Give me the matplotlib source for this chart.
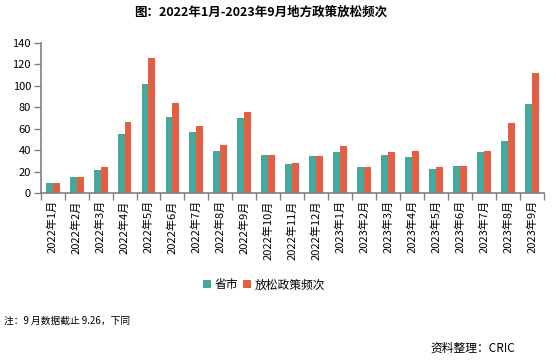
import matplotlib
matplotlib.use("Agg")
import matplotlib.pyplot as plt
import numpy as np

plt.rcParams['font.family'] = ['Noto Sans CJK SC', 'DejaVu Sans']

#--------------------------------------------#
# Data
#--------------------------------------------#
months = ["2022年1月", "2022年2月", "2022年3月", "2022年4月", "2022年5月",
          "2022年6月", "2022年7月", "2022年8月", "2022年9月", "2022年10月",
          "2022年11月", "2022年12月", "2023年1月", "2023年2月", "2023年3月",
          "2023年4月", "2023年5月", "2023年6月", "2023年7月", "2023年8月",
          "2023年9月"]
provinces = [10, 15, 22, 55, 102, 71, 57, 39, 70, 36, 27, 35,
             38, 24, 36, 34, 23, 25, 38, 49, 83]
relax_count = [10, 15, 24, 66, 126, 84, 63, 45, 76, 36, 28, 35,
               44, 24, 38, 39, 24, 25, 39, 65, 112]

green = "#45A89A"
red = "#E45F41"
grey = "#808080"

fig = plt.figure(figsize=(5.56, 3.63), dpi=100)
ax = fig.add_axes([0.0732, 0.4675, 0.9048, 0.4149])

x = np.arange(len(months))
w = 0.29
ax.bar(x - w/2, provinces, width=w, color=green, label="省市")
ax.bar(x + w/2, relax_count, width=w, color=red, label="放松政策频次")

ax.set_xlim(-0.5, len(months) - 0.5)
ax.set_ylim(0, 140)
ax.set_yticks(np.arange(0, 141, 20))

# labels at centres, tick marks at category boundaries
ax.set_xticks(x)
ax.set_xticklabels(months, rotation=90, fontsize=8)
ax.tick_params(axis='x', which='major', length=0, pad=5)
ax.set_xticks(np.arange(-0.5, len(months)), minor=True)
ax.tick_params(axis='x', which='minor', length=5, color=grey, width=1)
ax.tick_params(axis='y', length=5, color=grey, width=1, labelsize=8, pad=2)

for side in ['top', 'right']:
    ax.spines[side].set_visible(False)
for side in ['left', 'bottom']:
    ax.spines[side].set_color(grey)
    ax.spines[side].set_linewidth(1.2)

fig.text(0.468, 0.967, "图：2022年1月-2023年9月地方政策放松频次",
         ha='center', va='center', fontsize=9, fontweight='bold')

fig.legend(loc='center', bbox_to_anchor=(0.475, 0.215), ncol=2, frameon=False,
           fontsize=8.5, handlelength=0.7, handleheight=0.7,
           handletextpad=0.3, columnspacing=0.4)

fig.text(0.007, 0.116, "注：9 月数据截止 9.26，下同", ha='left', va='center',
         fontsize=7)
fig.text(0.927, 0.041, "资料整理：CRIC", ha='right', va='center', fontsize=8.5)

fig.savefig("out.png", dpi=100)
